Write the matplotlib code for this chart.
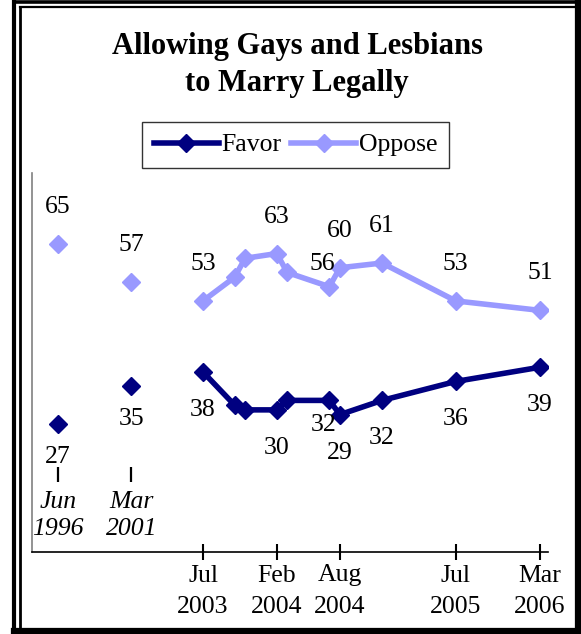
import matplotlib
matplotlib.use("Agg")
import matplotlib.pyplot as plt
from matplotlib.lines import Line2D

plt.rcParams['font.family'] = ['Liberation Serif', 'DejaVu Serif']

# 早期两次调查(单独画点, 不连线)
early_labels = ['Jun\n1996', 'Mar\n2001']
early_pos = [-13.8, -6.8]          # 在断开的横轴上的位置
early_favor = [27, 35]
early_oppose = [65, 57]

# 2003年7月之后的调查, 横轴为距2003年7月的月数
months = [0, 3, 4, 7, 8, 12, 13, 17, 24, 32]
favor = [38, 31, 30, 30, 32, 32, 29, 32, 36, 39]
oppose = [53, 58, 62, 63, 59, 56, 60, 61, 53, 51]
labeled = [0, 3, 5, 6, 7, 8, 9]     # 有数字标注的点

tick_months = [0, 7, 13, 24, 32]
tick_labels = ['Jul\n2003', 'Feb\n2004', 'Aug\n2004', 'Jul\n2005', 'Mar\n2006']

c_favor = '#000080'
c_oppose = '#9999FF'
fs = 18.5

fig = plt.figure(figsize=(5.81, 6.34), dpi=100)
W, H = 581.0, 634.0
ax = fig.add_axes([32 / W, 1 - 552 / H, (548 - 32) / W, (552 - 173) / H])

ax.plot(months, oppose, color=c_oppose, lw=4.0, marker='D', ms=9.5, label='Oppose', zorder=3)
ax.plot(months, favor, color=c_favor, lw=4.0, marker='D', ms=9.5, label='Favor', zorder=3)
ax.plot(early_pos, early_oppose, ls='none', color=c_oppose, marker='D', ms=9.5, zorder=3)
ax.plot(early_pos, early_favor, ls='none', color=c_favor, marker='D', ms=9.5, zorder=3)

# 数字标注, 个别点稍作偏移
opp_off = {5: (-7, 23)}
fav_off = {5: (-6, -25)}
for i in labeled:
    dx, dy = opp_off.get(i, (0, 37))
    ax.annotate(str(oppose[i]), (months[i], oppose[i]), xytext=(dx, dy),
                textcoords='offset pixels', ha='center', va='center', fontsize=fs)
    dx, dy = fav_off.get(i, (0, -38))
    ax.annotate(str(favor[i]), (months[i], favor[i]), xytext=(dx, dy),
                textcoords='offset pixels', ha='center', va='center', fontsize=fs)
for x, f, o, lab in zip(early_pos, early_favor, early_oppose, early_labels):
    ax.annotate(str(o), (x, o), xytext=(0, 37), textcoords='offset pixels',
                ha='center', va='center', fontsize=fs)
    ax.annotate(str(f), (x, f), xytext=(0, -33), textcoords='offset pixels',
                ha='center', va='center', fontsize=fs)
    ax.text(x, 12.9, lab, ha='center', va='top', fontsize=fs, style='italic', linespacing=1.3)
ax.vlines(early_pos, 14.8, 17.9, color='black', lw=1.6)

ax.set_xlim(-16.24, 32.76)
ax.set_ylim(0, 80)
ax.set_yticks([])
ax.set_xticks(tick_months)
ax.set_xticklabels(tick_labels, fontsize=fs, linespacing=1.55)
ax.tick_params(axis='x', direction='inout', length=12, width=1.5, pad=3, color='black')
for s in ['top', 'right']:
    ax.spines[s].set_visible(False)
ax.spines['left'].set_color('#808080')
ax.spines['left'].set_linewidth(1.2)
ax.spines['bottom'].set_linewidth(1.2)

fig.text(297 / W, 1 - 65 / H, 'Allowing Gays and Lesbians\nto Marry Legally', ha='center', va='center',
         fontsize=22, fontweight='bold', linespacing=1.36)

h, l = ax.get_legend_handles_labels()
leg = ax.legend(h[::-1], l[::-1], loc='center', bbox_to_anchor=(295.5 / W, 1 - 145 / H),
                bbox_transform=fig.transFigure, ncol=2, fontsize=fs, frameon=True, fancybox=False,
                edgecolor='black', handlelength=2.55, handletextpad=0.1, columnspacing=0.35,
                borderpad=0.45)
leg.get_frame().set_linewidth(1.0)

# 双线外框
def fline(x0, y0, x1, y1, lw):
    fig.add_artist(Line2D([x0 / W, x1 / W], [1 - y0 / H, 1 - y1 / H], color='black',
                          lw=lw, transform=fig.transFigure, solid_capstyle='projecting'))

fline(14, 1.5, 578, 1.5, 2.6)
fline(14, 1.5, 14, 631, 3.0)
fline(578, 1.5, 578, 631, 4.5)
fline(14, 631, 578, 631, 4.5)
fline(19.5, 7, 578, 7, 1.6)
fline(19.5, 7, 19.5, 631, 2.0)

fig.savefig('out.png', dpi=100)
